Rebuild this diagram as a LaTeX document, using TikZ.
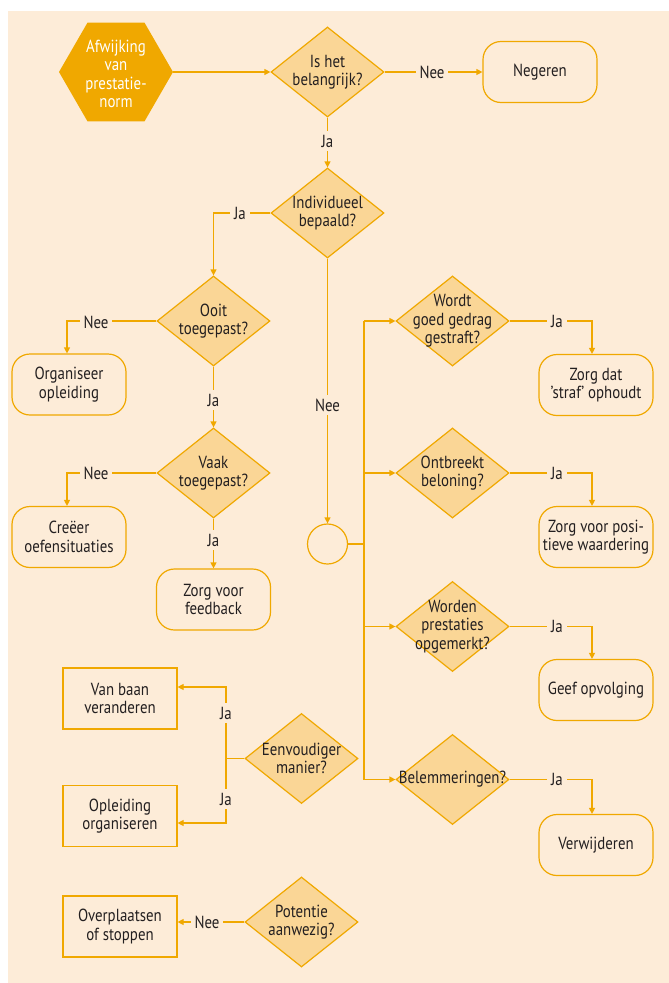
\documentclass[tikz,border=0pt]{standalone}
\usepackage{fontspec}
\setmainfont[FakeStretch=0.85]{PT Sans}
\usetikzlibrary{shapes.geometric,arrows.meta}
\definecolor{bg}{RGB}{253,236,216}
\definecolor{org}{RGB}{240,168,0}
\definecolor{dfill}{RGB}{250,214,150}
\definecolor{ink}{RGB}{35,31,32}
\begin{document}
\begin{tikzpicture}[x=1pt,y=-1pt,
  font=\fontsize{17.5}{18.5}\selectfont,
  every node/.style={text=ink},
  line/.style={draw=org, line width=1.2pt},
  arr/.style={line, -{Triangle[length=6pt,width=6pt]}},
  dia/.style={diamond, draw=org, fill=dfill, line width=1.2pt, minimum width=113pt, minimum height=90pt, inner sep=0pt},
  rbox/.style={rectangle, rounded corners=18pt, draw=org, fill=bg, line width=1.2pt, minimum width=114pt, minimum height=61pt, inner sep=0pt},
  sbox/.style={rectangle, draw=org, fill=bg, line width=1.2pt, minimum width=114pt, minimum height=61pt, inner sep=0pt},
  txt/.style={align=center, inner sep=0pt},
  lbl/.style={fill=bg, inner sep=4pt},
]
\useasboundingbox (0,0) rectangle (669,983);
\fill[white] (0,0) rectangle (669,983);
\fill[bg] (8,11) rectangle (669,983);

% shapes
\node[regular polygon, regular polygon sides=6, minimum size=114pt, fill=org, draw=none, inner sep=0pt] (hex) at (116,72) {};
\node[txt, text=white] (hext) at (116,74) {Afwijking\\van\\prestatie-\\norm};

\node[dia] (d1) at (327.5,72) {};
\node[txt] (d1t) at (d1) {Is het\\belangrijk?};
\node[rbox] (neg) at (540,72) {};
\node[txt] (negt) at (neg) {Negeren};

\node[dia] (d2) at (327.5,213) {};
\node[txt] (d2t) at (d2) {Individueel\\bepaald?};

\node[dia] (d3) at (213.5,321) {};
\node[txt] (d3t) at (d3) {Ooit\\toegepast?};
\node[rbox] (orgop) at (69,384.5) {};
\node[txt] (orgopt) at (orgop) {Organiseer\\opleiding};

\node[dia] (d4) at (213.5,473) {};
\node[txt] (d4t) at (d4) {Vaak\\toegepast?};
\node[rbox] (cre) at (69,537) {};
\node[txt] (cret) at (cre) {Creëer\\oefensituaties};
\node[rbox] (fb) at (213.5,599.5) {};
\node[txt] (fbt) at (fb) {Zorg voor\\feedback};

\node[circle, draw=org, fill=bg, line width=1.2pt, minimum size=40pt, inner sep=0pt] (circ) at (327.5,544) {};

\node[dia] (d5) at (452.5,321) {};
\node[txt] (d5t) at (d5) {Wordt\\goed gedrag\\gestraft?};
\node[rbox] (b5) at (596,385) {};
\node[txt] (b5t) at (b5) {Zorg dat\\’straf’ ophoudt};

\node[dia] (d6) at (452.5,473) {};
\node[txt] (d6t) at (d6) {Ontbreekt\\beloning?};
\node[rbox] (b6) at (596,537) {};
\node[txt] (b6t) at (b6) {Zorg voor posi-\\tieve waardering};

\node[dia] (d7) at (452.5,626.5) {};
\node[txt] (d7t) at (d7) {Worden\\prestaties\\opgemerkt?};
\node[rbox] (b7) at (596,690) {};
\node[txt] (b7t) at (b7) {Geef opvolging};

\node[dia] (d8) at (452.5,779.5) {};
\node[txt] (d8t) at (d8) {Belemmeringen?};
\node[rbox] (b8) at (596,845) {};
\node[txt] (b8t) at (b8) {Verwijderen};

\node[dia] (e) at (301.5,758.5) {};
\node[txt] (et) at (e) {Eenvoudiger\\manier?};
\node[sbox] (van) at (120,698.5) {};
\node[txt] (vant) at (van) {Van baan\\veranderen};
\node[sbox] (opl) at (120,816) {};
\node[txt] (oplt) at (opl) {Opleiding\\organiseren};

\node[dia] (pot) at (301.5,922) {};
\node[txt] (pott) at (pot) {Potentie\\aanwezig?};
\node[sbox] (ovp) at (120,926.5) {};
\node[txt] (ovpt) at (ovp) {Overplaatsen\\of stoppen};

% coordinates
\coordinate (bt) at (364,321);
\coordinate (bb) at (364,779.5);
\coordinate (ej) at (226,758.5);
\coordinate (jt) at (226,687);
\coordinate (jb) at (226,823);

% connectors
\draw[arr] (hex.east) -- (d1.west);
\draw[arr] (d1.east) -- (neg.west);
\draw[arr] (d1.south) -- (d2.north);
\draw[arr] (d2.west) -| (d3.north);
\draw[arr] (d3.west) -| ([xshift=-2pt]orgop.north);
\draw[arr] (d3.south) -- (d4.north);
\draw[arr] (d4.west) -| ([xshift=-2pt]cre.north);
\draw[arr] (d4.south) -- (fb.north);
\draw[arr] (d2.south) -- (circ.north);
\draw[line] (circ.east) -- (circ.east -| bt);
\draw[line] (bt) -- (bb);
\draw[arr] (bt) -- (d5.west);
\draw[arr] (d6.west -| bt) -- (d6.west);
\draw[arr] (d7.west -| bt) -- (d7.west);
\draw[arr] (bb) -- (d8.west);
\draw[arr] (d5.east) -| ([xshift=-4pt]b5.north);
\draw[arr] (d6.east) -| ([xshift=-4pt]b6.north);
\draw[arr] (d7.east) -| ([xshift=-4pt]b7.north);
\draw[arr] (d8.east) -| ([xshift=-4pt]b8.north);
\draw[line] (e.west) -- (ej);
\draw[arr] (ej) |- (jt -| van.east);
\draw[arr] (ej) |- (jb -| opl.east);
\draw[arr] (pot.west) -- (pot.west -| ovp.east);

% labels
\node[lbl] (l1) at (432,72) {Nee};
\node[lbl] (l2) at (327.5,141) {Ja};
\node[lbl] (l3) at (240,213) {Ja};
\node[lbl] (l4) at (96,322) {Nee};
\node[lbl] (l5) at (213.5,400) {Ja};
\node[lbl] (l6) at (96,473) {Nee};
\node[lbl] (l7) at (213.5,540) {Ja};
\node[lbl] (l8) at (327.5,405) {Nee};
\node[lbl] (l9) at (557,321) {Ja};
\node[lbl] (l10) at (557,473) {Ja};
\node[lbl] (l11) at (557,626.5) {Ja};
\node[lbl] (l12) at (557,779.5) {Ja};
\node[lbl] (l13) at (226,713) {Ja};
\node[lbl] (l14) at (226,799) {Ja};
\node[lbl] (l15) at (207,922) {Nee};
\end{tikzpicture}
\end{document}
